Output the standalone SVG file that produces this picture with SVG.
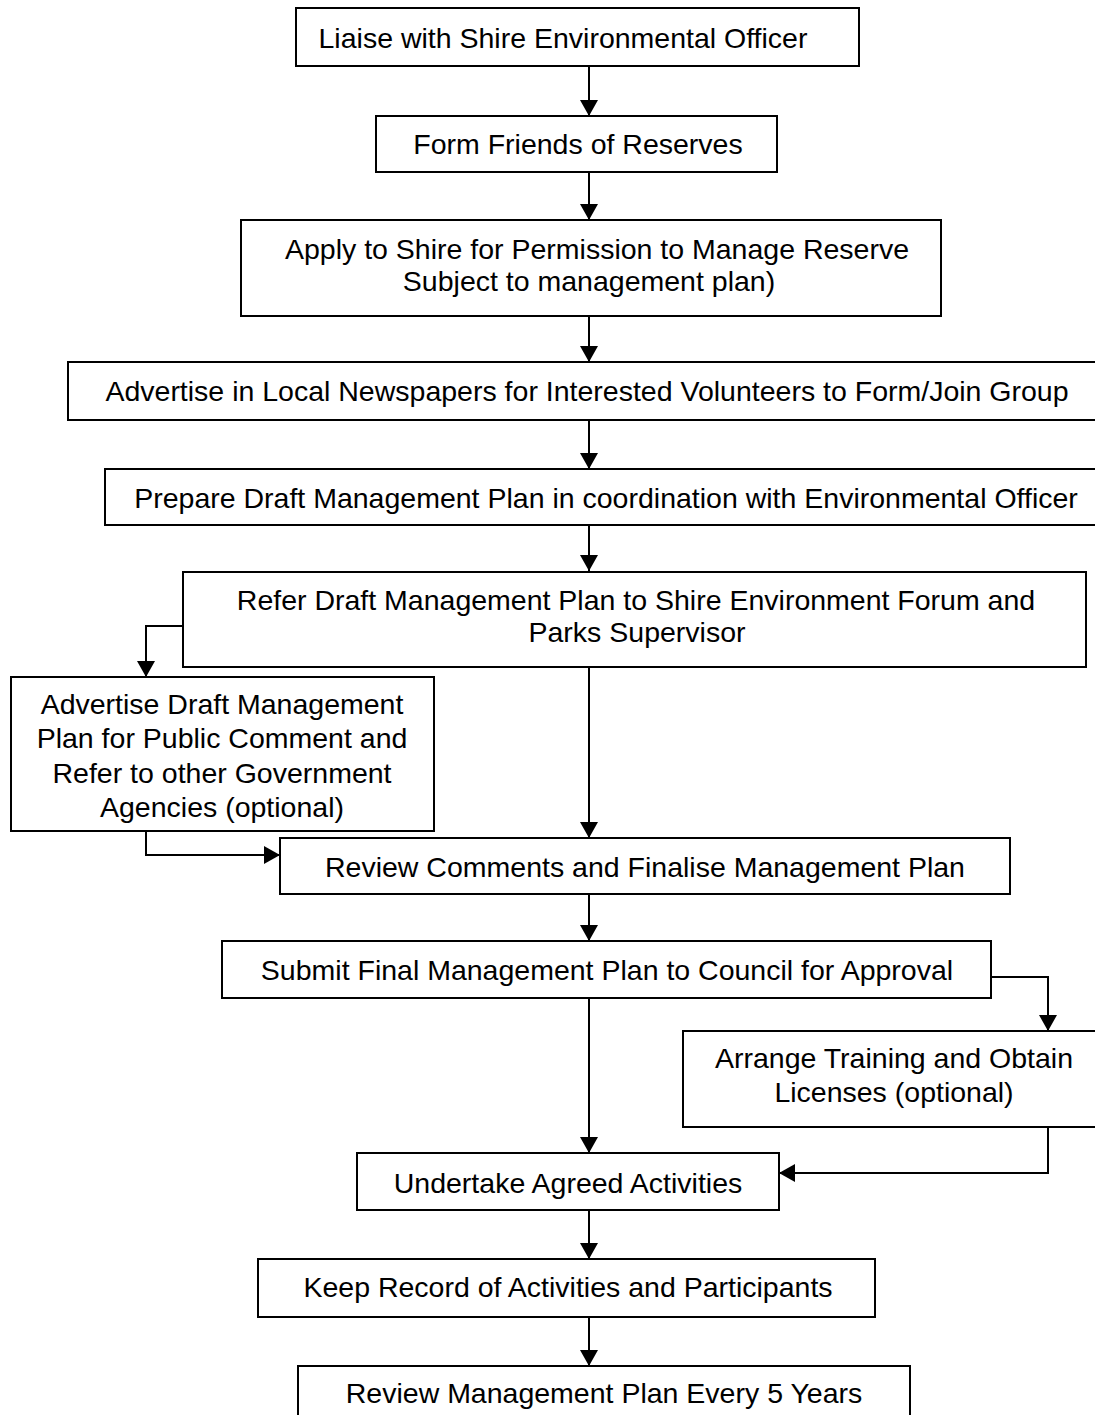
<svg xmlns="http://www.w3.org/2000/svg" width="1095" height="1415" viewBox="0 0 1095 1415">
<defs>
<marker id="ah" markerUnits="userSpaceOnUse" markerWidth="16" markerHeight="18" viewBox="0 0 16 18" refX="16" refY="9" orient="auto">
<path d="M0,0 L16,9 L0,18 Z" fill="#000"/>
</marker>
<style>
rect{fill:#fff;stroke:#000;stroke-width:2}
text{font-family:"Liberation Sans",Arial,sans-serif;font-size:28.5px;fill:#000;text-anchor:middle}
.c line,.c polyline{stroke:#000;stroke-width:2;fill:none}
</style>
</defs>
<rect x="0" y="0" width="1095" height="1415" style="stroke:none"/>
<g class="c" id="connectors">
<line x1="589" y1="66" x2="589" y2="116" marker-end="url(#ah)"/>
<line x1="589" y1="172" x2="589" y2="220" marker-end="url(#ah)"/>
<line x1="589" y1="316" x2="589" y2="362" marker-end="url(#ah)"/>
<line x1="589" y1="420" x2="589" y2="469" marker-end="url(#ah)"/>
<line x1="589" y1="525" x2="589" y2="571" marker-end="url(#ah)"/>
<polyline points="183,626 146,626 146,677" marker-end="url(#ah)"/>
<line x1="589" y1="667" x2="589" y2="838" marker-end="url(#ah)"/>
<polyline points="146,820 146,855 280,855" marker-end="url(#ah)"/>
<line x1="589" y1="894" x2="589" y2="941" marker-end="url(#ah)"/>
<polyline points="991,977 1048,977 1048,1031" marker-end="url(#ah)"/>
<line x1="589" y1="998" x2="589" y2="1153" marker-end="url(#ah)"/>
<polyline points="1048,1118 1048,1173 779,1173" marker-end="url(#ah)"/>
<line x1="589" y1="1210" x2="589" y2="1259" marker-end="url(#ah)"/>
<line x1="589" y1="1317" x2="589" y2="1366" marker-end="url(#ah)"/>
</g>
<g id="n1"><rect x="296" y="8" width="563" height="58"/><text x="563" y="48">Liaise with Shire Environmental Officer</text></g>
<g id="n2"><rect x="376" y="116" width="401" height="56"/><text x="578" y="154">Form Friends of Reserves</text></g>
<g id="n3"><rect x="241" y="220" width="700" height="96"/><text x="597" y="259">Apply to Shire for Permission to Manage Reserve</text><text x="589" y="291">Subject to management plan)</text></g>
<g id="n4"><rect x="68" y="362" width="1040" height="58"/><text x="587" y="401">Advertise in Local Newspapers for Interested Volunteers to Form/Join Group</text></g>
<g id="n5"><rect x="105" y="469" width="1003" height="56"/><text x="606" y="508">Prepare Draft Management Plan in coordination with Environmental Officer</text></g>
<g id="n6"><rect x="183" y="572" width="903" height="95"/><text x="636" y="610">Refer Draft Management Plan to Shire Environment Forum and</text><text x="637" y="642">Parks Supervisor</text></g>
<g id="n7"><rect x="11" y="677" width="423" height="154"/><text x="222" y="714">Advertise Draft Management</text><text x="222" y="748">Plan for Public Comment and</text><text x="222" y="783">Refer to other Government</text><text x="222" y="817">Agencies (optional)</text></g>
<g id="n8"><rect x="280" y="838" width="730" height="56"/><text x="645" y="877">Review Comments and Finalise Management Plan</text></g>
<g id="n9"><rect x="222" y="941" width="769" height="57"/><text x="607" y="980">Submit Final Management Plan to Council for Approval</text></g>
<g id="n10"><rect x="683" y="1031" width="430" height="96"/><text x="894" y="1068">Arrange Training and Obtain</text><text x="894" y="1102">Licenses (optional)</text></g>
<g id="n11"><rect x="357" y="1153" width="422" height="57"/><text x="568" y="1193">Undertake Agreed Activities</text></g>
<g id="n12"><rect x="258" y="1259" width="617" height="58"/><text x="568" y="1297">Keep Record of Activities and Participants</text></g>
<g id="n13"><rect x="298" y="1366" width="612" height="60"/><text x="604" y="1403">Review Management Plan Every 5 Years</text></g>
</svg>
